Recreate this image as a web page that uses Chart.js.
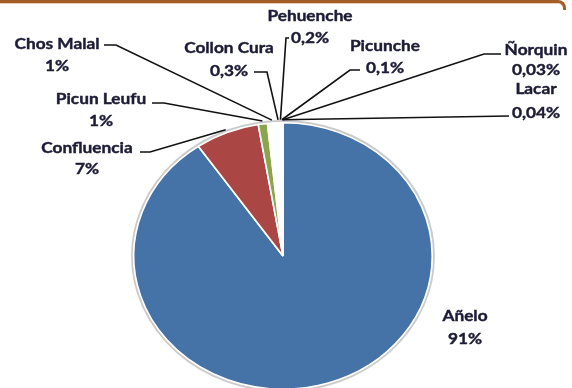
<!DOCTYPE html>
<html>
<head>
<meta charset="utf-8">
<script src="https://cdn.jsdelivr.net/npm/chart.js@4"></script>
<style>
  html, body { margin: 0; padding: 0; background: #fff; overflow: hidden; }
  #wrap { position: relative; width: 572px; height: 388px; overflow: hidden; background: #fff; }
  #frame {
    position: absolute; left: -20px; top: 0; width: 586px; height: 10px;
    border-top: 3px solid #a55d28; border-right: 3px solid #a55d28;
    border-top-right-radius: 8px; box-sizing: border-box;
    box-shadow: inset 0 1px 0 #e9cdb8;
  }
  #box { position: absolute; left: 0; top: 0; width: 572px; height: 430px; }
</style>
</head>
<body>
<div id="wrap">
  <div id="box"><canvas id="chart" width="572" height="430"></canvas></div>
  <div id="frame"></div>
</div>
<script>
// Participación por localidad (%)
const localidades = ["Añelo", "Confluencia", "Picun Leufu", "Chos Malal", "Collon Cura", "Pehuenche", "Picunche", "Lacar", "Ñorquin"];
const porcentajes = [91, 7, 1, 1, 0.3, 0.2, 0.1, 0.04, 0.03];
const etiquetas = ["91%", "7%", "1%", "1%", "0,3%", "0,2%", "0,1%", "0,04%", "0,03%"];
const colores = ["#4572a7", "#aa4643", "#89a54e", "#ffffff", "#ffffff", "#ffffff", "#ffffff", "#ffffff", "#ffffff"];

// where each label sits: text centre x, name y, value y, leader line start and elbow
const rotulos = [
  { x: 465, y1: 316, y2: 339, guia: null },
  { x: 87,  y1: 148, y2: 169, guia: [[140, 152], [150, 152]] },
  { x: 101, y1: 99,  y2: 121, guia: [[152, 103], [164, 103]] },
  { x: 57,  y1: 44,  y2: 66,  guia: [[104, 45], [116, 45]] },
  { x: 229, y1: 48,  y2: 71,  guia: [[254, 72], [267, 72]] },
  { x: 310, y1: 16,  y2: 38,  guia: [[289, 38], [286, 38]] },
  { x: 385, y1: 46,  y2: 68,  guia: [[360, 70], [350, 70]] },
  { x: 536, y1: 89,  y2: 113, guia: [[509, 116]] },
  { x: 536, y1: 50,  y2: 70,  guia: [[501, 54], [484, 54]] }
];

const ESTIRA = 1.12; // the pie is drawn as a slightly wide ellipse

function centro(chart) {
  const arc = chart.getDatasetMeta(0).data[0];
  return { x: arc.x, y: arc.y, r: arc.outerRadius };
}

const elipse = {
  id: "elipse",
  beforeDatasetsDraw(chart) {
    const ctx = chart.ctx;
    const c = centro(chart);
    ctx.save();
    // soft grey rim around the pie
    ctx.beginPath();
    ctx.ellipse(c.x, c.y, c.r * ESTIRA + 1.5, c.r + 1.5, 0, 0, Math.PI * 2);
    ctx.strokeStyle = "rgba(160,160,160,0.55)";
    ctx.lineWidth = 2.5;
    ctx.stroke();
    ctx.translate(c.x, c.y);
    ctx.scale(ESTIRA, 1);
    ctx.translate(-c.x, -c.y);
  },
  afterDatasetsDraw(chart) {
    chart.ctx.restore();
  }
};

function texto(ctx, t, x, y) {
  ctx.save();
  ctx.translate(x, y);
  ctx.scale(1.15, 1);
  ctx.fillText(t, 0, 0);
  ctx.strokeText(t, 0, 0);
  ctx.restore();
}

const rotulosPlugin = {
  id: "rotulos",
  afterDraw(chart) {
    const ctx = chart.ctx;
    const meta = chart.getDatasetMeta(0);
    ctx.save();
    meta.data.forEach((arc, i) => {
      const r = rotulos[i];
      if (r.guia) {
        const mid = (arc.startAngle + arc.endAngle) / 2;
        const px = arc.x + Math.cos(mid) * (arc.outerRadius + 3) * ESTIRA;
        const py = arc.y + Math.sin(mid) * (arc.outerRadius + 3);
        ctx.strokeStyle = "#111";
        ctx.lineWidth = 1.6;
        ctx.beginPath();
        ctx.moveTo(r.guia[0][0], r.guia[0][1]);
        r.guia.slice(1).forEach(p => ctx.lineTo(p[0], p[1]));
        ctx.lineTo(px, py);
        ctx.stroke();
      }
      ctx.fillStyle = "#1c1c36";
      ctx.strokeStyle = "#1c1c36";
      ctx.lineWidth = 0.4;
      ctx.font = "bold 15px Lato, 'Open Sans', sans-serif";
      ctx.textAlign = "center";
      ctx.textBaseline = "middle";
      texto(ctx, localidades[i], r.x, r.y1);
      texto(ctx, etiquetas[i], r.x, r.y2);
    });
    ctx.restore();
  }
};

new Chart(document.getElementById("chart"), {
  type: "pie",
  data: {
    labels: localidades,
    datasets: [{
      data: porcentajes,
      backgroundColor: colores,
      borderColor: "#ffffff",
      borderWidth: 1.5,
      hoverOffset: 0
    }]
  },
  options: {
    responsive: false,
    animation: false,
    layout: { padding: { left: 149, right: 155, top: 122, bottom: 40 } },
    plugins: { legend: { display: false }, tooltip: { enabled: false } }
  },
  plugins: [elipse, rotulosPlugin]
});
</script>
</body>
</html>
